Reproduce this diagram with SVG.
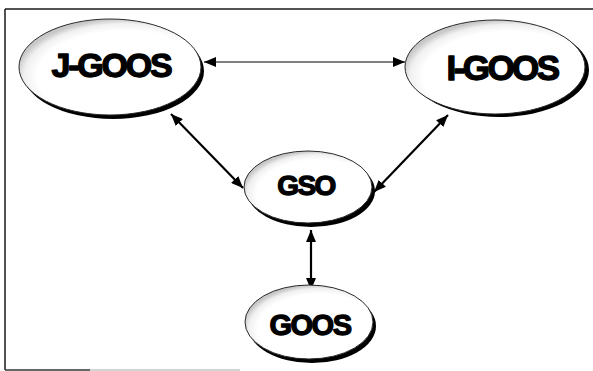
<svg xmlns="http://www.w3.org/2000/svg" width="593" height="371" viewBox="0 0 593 371">
  <style>
    .frame { fill: none; stroke: #1a1a1a; stroke-width: 1.5; }
    .shadow { fill: #000; }
    .body { fill: url(#shade); stroke: #2a2a2a; stroke-width: 1; }
    .label { font-family: "Liberation Sans", Arial, Helvetica, sans-serif; font-weight: bold; fill: #000; stroke: #000; stroke-width: 1.3; stroke-linejoin: round; text-anchor: middle; }
    .link { fill: none; stroke: #000; marker-start: url(#head); marker-end: url(#head); }
    .thin { stroke-width: 1.2; }
    .thick { stroke-width: 2.2; }
  </style>
  <defs>
    <radialGradient id="shade" cx="0.58" cy="0.6" r="0.6">
      <stop offset="0.8" stop-color="#fff"/>
      <stop offset="0.92" stop-color="#f0f0f0"/>
      <stop offset="1" stop-color="#c8c8c8"/>
    </radialGradient>
    <marker id="head" viewBox="0 0 12 10" refX="12" refY="5" markerWidth="12" markerHeight="10" markerUnits="userSpaceOnUse" orient="auto-start-reverse">
      <path d="M0,0 L12,5 L0,10 Z" fill="#000"/>
    </marker>
  </defs>

  <!-- outer frame: open on the right, faint along the bottom -->
  <g id="frame">
    <line class="frame" x1="5" y1="9" x2="593" y2="9"/>
    <line class="frame" x1="5" y1="9" x2="5" y2="370"/>
    <line x1="5" y1="370" x2="90" y2="370" stroke="#333" stroke-width="1.5"/>
    <line x1="90" y1="370" x2="240" y2="370" stroke="#aaa" stroke-width="1.2"/>
  </g>

  <g id="connectors">
    <line class="link thin" x1="204" y1="62" x2="405" y2="62"/>
    <line class="link thick" x1="171" y1="114" x2="243" y2="188"/>
    <line class="link thick" x1="448" y1="115" x2="374" y2="192"/>
    <line class="link thick" x1="311" y1="230" x2="311" y2="290"/>
  </g>

  <g id="j-goos">
    <ellipse class="shadow" cx="113" cy="71" rx="91" ry="48"/>
    <ellipse class="body" cx="110" cy="67" rx="91" ry="48"/>
    <text class="label" x="111" y="77" font-size="34" letter-spacing="-2.2">J-GOOS</text>
  </g>

  <g id="i-goos">
    <ellipse class="shadow" cx="499" cy="70" rx="90" ry="47"/>
    <ellipse class="body" cx="495" cy="67" rx="90" ry="47"/>
    <text class="label" x="502" y="80" font-size="35" letter-spacing="-2.6">I-GOOS</text>
  </g>

  <g id="gso">
    <ellipse class="shadow" cx="311" cy="191" rx="64" ry="36"/>
    <ellipse class="body" cx="308" cy="187" rx="64" ry="36"/>
    <text class="label" x="306" y="195" font-size="28" letter-spacing="-1.5">GSO</text>
  </g>

  <g id="goos">
    <ellipse class="shadow" cx="312" cy="326" rx="64" ry="37"/>
    <ellipse class="body" cx="309" cy="322" rx="64" ry="37"/>
    <text class="label" x="310" y="335" font-size="29" letter-spacing="-1.5">GOOS</text>
  </g>
</svg>
